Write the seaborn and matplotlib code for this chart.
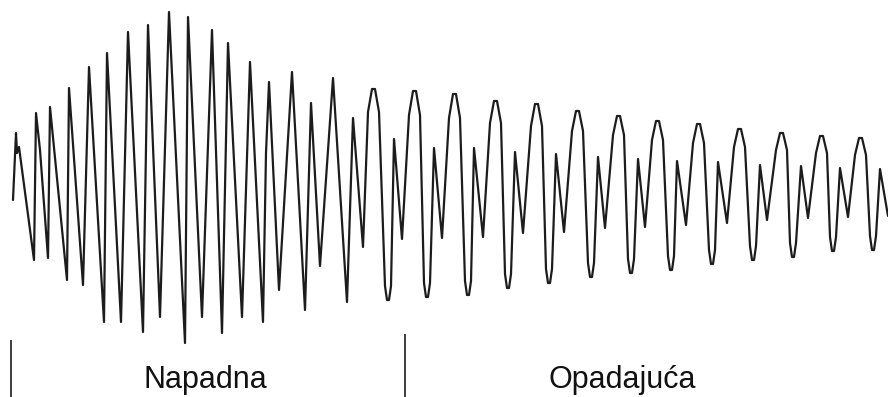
import pandas as pd
import seaborn as sns
import matplotlib.pyplot as plt

# Waveform points (time in samples, level in picture units)
# attack part: narrow, sharp swings
attack_time = [13, 16, 17, 19, 34, 36, 40, 48, 50, 67, 69, 83, 89, 104, 107, 121,
               128, 143, 148, 160, 169, 185, 188, 202, 212, 222, 228, 242, 250, 263,
               266, 269, 279, 292, 305, 311, 320, 333, 347, 353, 363]
attack_level = [200, 133, 153, 147, 260, 113, 150, 258, 107, 280, 88, 285, 67, 322, 53, 322,
                32, 332, 25, 317, 12, 343, 17, 317, 30, 333, 43, 317, 62, 322,
                153, 82, 290, 72, 310, 103, 266, 78, 302, 118, 247]
# decay part: rounded main peaks with a smaller bump between them
decay_time = [368, 372, 375, 379, 385, 387, 389, 391, 394, 402,
              409, 413, 416, 420, 424, 426, 428, 430, 434, 442,
              449, 453, 456, 460, 465, 467, 469, 471, 474, 483,
              490, 494, 497, 501, 505, 507, 509, 511, 515, 523,
              531, 535, 538, 542, 546, 548, 550, 552, 556, 564,
              572, 576, 579, 583, 588, 590, 592, 594, 598, 605,
              613, 617, 620, 624, 628, 630, 632, 634, 638, 645,
              652, 656, 659, 663, 668, 670, 672, 674, 677, 686,
              693, 697, 700, 704, 709, 711, 713, 715, 718, 727,
              734, 738, 741, 745, 750, 752, 754, 756, 760, 767,
              776, 780, 783, 787, 790, 792, 794, 796, 801, 808,
              816, 820, 823, 827, 830, 832, 834, 836, 840, 848,
              855, 859, 862, 866, 870, 872, 874, 876, 880, 888]
decay_level = [112, 89, 89, 112, 286, 300, 300, 286, 139, 239,
               115, 91, 91, 115, 283, 297, 297, 283, 148, 238,
               118, 94, 94, 118, 281, 295, 295, 281, 148, 237,
               123, 101, 101, 123, 274, 288, 288, 274, 152, 233,
               126, 104, 104, 126, 269, 283, 283, 269, 154, 232,
               131, 111, 111, 131, 263, 277, 277, 263, 157, 228,
               135, 116, 116, 135, 259, 273, 273, 259, 159, 227,
               140, 121, 121, 140, 256, 270, 270, 256, 161, 225,
               143, 124, 124, 143, 250, 264, 264, 250, 162, 223,
               147, 129, 129, 147, 246, 260, 260, 246, 165, 220,
               150, 133, 133, 150, 243, 257, 257, 243, 166, 218,
               153, 136, 136, 153, 237, 251, 251, 237, 168, 217,
               155, 138, 138, 155, 236, 250, 250, 236, 169, 216]
baseline = 195

# Phase boundaries and labels
phase_edges = [11, 405]
phase_edge_tops = [340, 334]
phase_labels = ["Napadna", "Opadajuća"]
phase_label_pos = [205, 622]

df = pd.DataFrame({"t": attack_time + decay_time,
                   "a": [baseline - v for v in attack_level + decay_level]})

sns.set_style("white")
plt.rcParams['font.family'] = ['Liberation Sans', 'DejaVu Sans']

fig = plt.figure(figsize=(8.88, 3.97), dpi=100)
ax = fig.add_axes([0, 0, 1, 1])

sns.lineplot(data=df, x="t", y="a", sort=False, estimator=None,
             color="#1c1c1c", linewidth=1.6, ax=ax)

ymin, ymax = baseline - 397, baseline - 0
for edge, top in zip(phase_edges, phase_edge_tops):
    ax.vlines(edge, ymin, baseline - top, color="#1c1c1c", linewidth=1.2)

for label, pos in zip(phase_labels, phase_label_pos):
    ax.text(pos, baseline - 388, label, ha="center", va="baseline",
            fontsize=22, color="#111111")

ax.set_xlim(0, 888)
ax.set_ylim(ymin, ymax)
ax.set_axis_off()

fig.savefig("out.png", dpi=100)
